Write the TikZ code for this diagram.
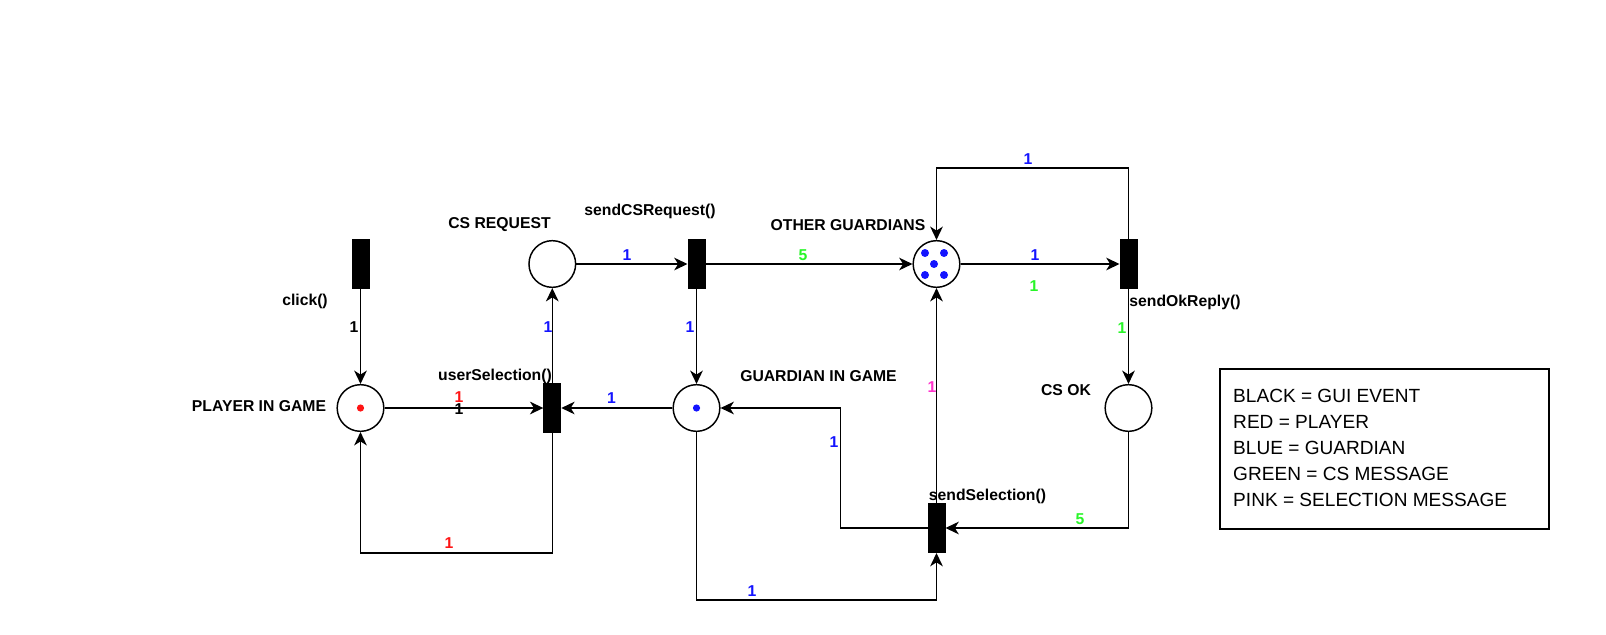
\documentclass[tikz,border=0pt]{standalone}
\usepackage{fontspec}
\setmainfont{Liberation Sans}
\usetikzlibrary{arrows.meta}

\definecolor{wblue}{RGB}{20,20,255}
\definecolor{wgreen}{RGB}{40,245,40}
\definecolor{wred}{RGB}{255,20,20}
\definecolor{wpink}{RGB}{255,51,204}

\begin{document}
\begin{tikzpicture}[
  x=0.75pt, y=-0.75pt,
  >={Stealth[length=10pt, width=9.5pt, inset=3pt]}, line width=1.1pt,
  font=\fontsize{11.8}{14}\selectfont\bfseries,
  place/.style={circle, draw, minimum size=35pt, inner sep=0pt},
  trans/.style={rectangle, draw, fill=black, minimum width=12.4pt, minimum height=36.4pt, inner sep=0pt},
  lbl/.style={inner sep=0pt},
  wt/.style={inner sep=0pt},
  keybox/.style={rectangle, draw, minimum width=247pt, minimum height=120pt, inner sep=0pt},
  keytext/.style={align=left, inner sep=0pt, font=\fontsize{14.3}{19.5}\selectfont}
]
  \useasboundingbox (0,0) rectangle (1606,635);
  \node[trans] (click) at (360.5,264) {};
  \node[place] (player) at (360.5,408) {};
  \node[trans] (usersel) at (552.3,408) {};
  \node[place] (csreq) at (552.3,264) {};
  \node[trans] (sendcs) at (696.5,264) {};
  \node[place] (guard) at (696.5,408) {};
  \node[place] (others) at (936.5,264) {};
  \node[trans] (sendok) at (1128.5,264) {};
  \node[place] (csok) at (1128.5,408) {};
  \node[trans] (sendsel) at (936.5,528) {};
  \fill[wred] (player) circle[radius=3.6];
  \fill[wblue] (guard) circle[radius=3.6];
  \foreach \dx/\dy in {-11.5/-11, 7.5/-11, -2.5/0, -11.5/11, 7.5/11}
    \fill[wblue] ([shift={(\dx,\dy)}]others.center) circle[radius=4];
  \node[lbl] (lclick) at (305,301) {click()};
  \node[lbl] (lplayer) at (259,406) {PLAYER IN GAME};
  \node[lbl] (lusersel) at (495,376) {userSelection()};
  \node[lbl] (lcsreq) at (499.5,225) {CS REQUEST};
  \node[lbl] (lsendcs) at (650,211) {sendCSRequest()};
  \node[lbl] (lguard) at (818.5,376) {GUARDIAN IN GAME};
  \node[lbl] (lothers) at (848,225) {OTHER GUARDIANS};
  \node[lbl] (lsendok) at (1185,302) {sendOkReply()};
  \node[lbl] (lcsok) at (1066,390) {CS OK};
  \node[lbl] (lsendsel) at (987.5,496) {sendSelection()};
  \draw[->] (click) -- (player);
  \draw[->] (player) -- (usersel);
  \draw[->] (usersel.south) -- ++(0,120) -| (player.south);
  \draw[->] (usersel) -- (csreq);
  \draw[->] (csreq) -- (sendcs);
  \draw[->] (sendcs) -- (others);
  \draw[->] (sendcs) -- (guard);
  \draw[->] (guard) -- (usersel);
  \draw[->] (others) -- (sendok);
  \draw[->] (sendok.north) -- ++(0,-71) -| (others.north);
  \draw[->] (sendok) -- (csok);
  \draw[->] (csok.south) |- (sendsel.east);
  \draw[->] (sendsel.west) -- ++(-87,0) |- (guard.east);
  \draw[->] (guard.south) -- ++(0,168) -| (sendsel.south);
  \draw[->] (sendsel) -- (others);
  \node[wt] (w1) at (354,327) {1};
  \node[wt, wred] (w2) at (459,397) {1};
  \node[wt] (w3) at (459,409) {1};
  \node[wt, wred] (w4) at (449,543) {1};
  \node[wt, wblue] (w5) at (548,327) {1};
  \node[wt, wblue] (w6) at (627,255) {1};
  \node[wt, wgreen] (w7) at (803,255) {5};
  \node[wt, wblue] (w8) at (690,327) {1};
  \node[wt, wblue] (w9) at (611.5,398) {1};
  \node[wt, wblue] (w10) at (1028,159) {1};
  \node[wt, wblue] (w11) at (1035,255) {1};
  \node[wt, wgreen] (w12) at (1034,286) {1};
  \node[wt, wgreen] (w13) at (1122,328) {1};
  \node[wt, wpink] (w14) at (932,387) {1};
  \node[wt, wblue] (w15) at (834,442) {1};
  \node[wt, wblue] (w16) at (752,591) {1};
  \node[wt, wgreen] (w17) at (1080,519) {5};
  \node[keybox] (key) at (1384.5,449) {};
  \node[keytext, anchor=north west] (keytxt) at (1232.5,388.5) {BLACK = GUI EVENT\\RED = PLAYER\\BLUE = GUARDIAN\\GREEN = CS MESSAGE\\PINK = SELECTION MESSAGE};
\end{tikzpicture}
\end{document}
